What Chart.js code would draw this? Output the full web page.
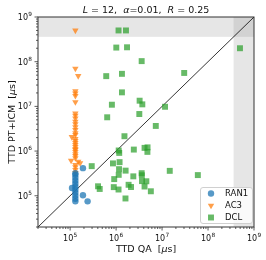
<!DOCTYPE html>
<html><head><meta charset="utf-8">
<script src="https://cdn.jsdelivr.net/npm/chart.js@4"></script>
<style>html,body{margin:0;padding:0;background:#fff}</style>
</head><body>
<canvas id="c" width="266" height="260"></canvas>
<script>
// ---------- data ----------
const AXIS_MIN = 2e4, AXIS_MAX = 1e9;
const TIMEOUT = 3.6e8;
const TICK_EXPONENTS = [5, 6, 7, 8, 9];
const SERIES_NAMES = ['RAN1', 'AC3', 'DCL'];
const DIAGONAL = [AXIS_MIN, AXIS_MAX];

const RAN1_X = [1.3e5,1.3e5,1.3e5,1.3e5,1.3e5,1.3e5,1.3e5,1.3e5,1.3e5,1.3e5,1.3e5,1.9e5,1.1e5,1.9e5,2.4e5];
const RAN1_Y = [3.2e5,2.94e5,2.52e5,2.16e5,1.85e5,1.59e5,1.36e5,1.17e5,1.0e5,8.6e4,7.5e4,4.15e5,1.49e5,1.03e5,7.5e4];

const AC3_X = [1.3e5,1.3e5,1.5e5,1.3e5,1.3e5,1.3e5,1.3e5,1.3e5,1.3e5,1.3e5,1.3e5,1.3e5,1.3e5,1.3e5,1.3e5,1.3e5,1.09e5,1.3e5,1.3e5,1.3e5,1.3e5,1.3e5,1.3e5,1.3e5,1.3e5,1.3e5,1.3e5,1.3e5,1.05e5,1.5e5,1.65e5,1.3e5,1.3e5,1.3e5,1.3e5];
const AC3_Y = [5e8,7.0e7,4.8e7,2.2e7,1.95e7,1.73e7,1.25e7,7.0e6,6.2e6,5.4e6,4.55e6,4.0e6,3.46e6,2.97e6,2.54e6,2.3e6,2.07e6,1.87e6,1.69e6,1.52e6,1.37e6,1.24e6,1.12e6,1.06e6,9.6e5,8.6e5,7.8e5,7.0e5,6.1e5,5.8e5,5.4e5,4.9e5,4.4e5,3.8e5,3.26e5];

const DCL_X = [1.13e6,1.64e6,1.01e6,1.73e6,3.6e6,6.1e5,1.34e6,3.03e7,1.34e6,3.25e6,3.72e6,8.1e5,1.16e7,6.4e5,3.2e6,7.3e6,4.95e8,
  1.52e6,1.14e6,1.17e6,2.43e6,4.16e6,4.83e6,4.8e6,2.95e5,8.55e5,1.19e6,1.16e6,1.61e6,1.14e6,9.1e5,3.6e6,3.63e6,2.37e6,1.47e7,6.0e7,
  1.87e6,2.11e6,3.66e6,4.55e6,4.16e6,5.7e6,8.9e5,1.13e6,4.05e5,4.4e5,1.6e6];
const DCL_Y = [5e8,5e8,2.07e8,2.1e8,1.03e8,4.75e7,5.35e7,5.6e7,2.06e7,1.34e7,1.11e7,1.09e7,9.8e6,5.7e6,6.75e6,3.65e6,2.0e8,
  2.15e6,1.03e6,9.1e5,1.08e6,1.18e6,1.21e6,9.6e5,4.6e5,5.3e5,5.65e5,3.94e5,3.65e5,2.94e5,2.36e5,3.2e5,2.87e5,2.72e5,3.61e5,2.9e5,
  1.76e5,1.57e5,2.13e5,2.11e5,1.61e5,1.26e5,1.56e5,1.38e5,1.63e5,1.42e5,8.7e4];

// ---------- helpers ----------
const pts = (xs, ys) => xs.map((x, i) => ({x, y: ys[i]}));
const TICK_VALUES = [];
for (let e = 4; e <= 9; e++) for (let k = 1; k <= 9; k++) {
  const v = k * Math.pow(10, e);
  if (v >= AXIS_MIN && v <= AXIS_MAX + 1) TICK_VALUES.push(v);
}
const isPow = v => TICK_EXPONENTS.some(e => Math.abs(v - Math.pow(10, e)) < 1e-6 * v);

const FONT = '"DejaVu Sans", sans-serif';
function segs(ctx, list, size) {
  let total = 0;
  list.forEach(s => { ctx.font = (s[1] ? 'italic ' : '') + size + 'px ' + FONT; s.w = ctx.measureText(s[0]).width; total += s.w; });
  return total;
}
function drawSegs(ctx, list, size, cx, base) {
  const total = segs(ctx, list, size);
  let x = cx - total / 2;
  list.forEach(s => { ctx.font = (s[1] ? 'italic ' : '') + size + 'px ' + FONT; ctx.fillText(s[0], x, base); x += s.w; });
}
// "10^e" label: returns width, draws with left edge at x
function powLabel(ctx, e, x, base, draw) {
  ctx.font = '8px ' + FONT;
  const w1 = ctx.measureText('10').width;
  ctx.font = '5.8px ' + FONT;
  const w2 = ctx.measureText(String(e)).width;
  if (draw) {
    ctx.font = '8px ' + FONT; ctx.fillText('10', x, base);
    ctx.font = '5.8px ' + FONT; ctx.fillText(String(e), x + w1 + 0.3, base - 3.6);
  }
  return w1 + 0.3 + w2;
}

const COLORS = ['rgba(31,119,180,0.75)', 'rgba(255,127,14,0.75)', 'rgba(44,160,44,0.72)'];

const decor = {
  id: 'decor',
  beforeDatasetsDraw(chart) {
    const {ctx, chartArea: a, scales: {x, y}} = chart;
    ctx.save();
    ctx.fillStyle = 'rgba(128,128,128,0.2)';
    const yt = y.getPixelForValue(TIMEOUT);
    ctx.fillRect(a.left, a.top, a.right - a.left, yt - a.top);
    const xt = x.getPixelForValue(TIMEOUT);
    ctx.fillRect(xt, a.top, a.right - xt, a.bottom - a.top);
    ctx.restore();
  },
  afterDraw(chart) {
    const {ctx, chartArea: a, scales: {x, y}} = chart;
    ctx.save();
    // spines
    ctx.strokeStyle = '#333'; ctx.lineWidth = 1;
    ctx.strokeRect(a.left, a.top, a.right - a.left, a.bottom - a.top);
    // ticks
    ctx.lineWidth = 0.8;
    ctx.beginPath();
    TICK_VALUES.forEach(v => {
      const len = isPow(v) ? 3.5 : 2;
      const px = x.getPixelForValue(v);
      ctx.moveTo(px, a.bottom); ctx.lineTo(px, a.bottom + len);
      const py = y.getPixelForValue(v);
      ctx.moveTo(a.left, py); ctx.lineTo(a.left - len, py);
    });
    ctx.stroke();
    // tick labels
    ctx.fillStyle = '#111'; ctx.textBaseline = 'alphabetic'; ctx.textAlign = 'left';
    TICK_EXPONENTS.forEach(e => {
      const v = Math.pow(10, e);
      const px = x.getPixelForValue(v);
      const w = powLabel(ctx, e, 0, 0, false);
      powLabel(ctx, e, px - w / 2, a.bottom + 13.5, true);
      const py = y.getPixelForValue(v);
      powLabel(ctx, e, a.left - 6 - w, py + 3, true);
    });
    // texts
    drawSegs(ctx, [['L', 1], [' = 12,  ', 0], ['α', 1], ['=0.01,  ', 0], ['R', 1], [' = 0.25', 0]], 9.5, (a.left + a.right) / 2, 12.5);
    drawSegs(ctx, [['TTD QA  [', 0], ['μ', 1], ['s]', 0]], 9.5, (a.left + a.right) / 2, 251.5);
    ctx.save();
    ctx.translate(14.5, (a.top + a.bottom) / 2);
    ctx.rotate(-Math.PI / 2);
    drawSegs(ctx, [['TTD PT+ICM  [', 0], ['μ', 1], ['s]', 0]], 9.5, 0, 0);
    ctx.restore();
    // legend
    const bx = a.right - 54, by = a.bottom - 40, bw = 52, bh = 36;
    ctx.beginPath();
    ctx.roundRect(bx + 0.5, by + 0.5, bw, bh, 2.5);
    ctx.fillStyle = 'rgba(255,255,255,0.8)'; ctx.fill();
    ctx.strokeStyle = '#d0d0d0'; ctx.lineWidth = 1; ctx.stroke();
    chart.data.datasets.slice(0, 3).forEach((ds, i) => {
      const my = by + 6.5 + i * 12, mx = bx + 11;
      ctx.fillStyle = ds.backgroundColor;
      ctx.beginPath();
      Chart.helpers.drawPoint(ctx, {pointStyle: ds.pointStyle, radius: ds.pointRadius, rotation: ds.rotation || 0, borderWidth: 0}, mx, my);
      ctx.fillStyle = '#111';
      ctx.font = '8.5px ' + FONT; ctx.textBaseline = 'middle';
      ctx.fillText(ds.label, bx + 25, my + 0.5);
    });
    ctx.restore();
  }
};

new Chart(document.getElementById('c'), {
  type: 'scatter',
  data: {
    datasets: [
      {label: SERIES_NAMES[0], data: pts(RAN1_X, RAN1_Y), pointStyle: 'circle', pointRadius: 3.2, backgroundColor: COLORS[0], borderWidth: 0},
      {label: SERIES_NAMES[1], data: pts(AC3_X, AC3_Y), pointStyle: 'triangle', rotation: 180, pointRadius: 3.7, backgroundColor: COLORS[1], borderWidth: 0},
      {label: SERIES_NAMES[2], data: pts(DCL_X, DCL_Y), pointStyle: 'rect', pointRadius: 4.2, backgroundColor: COLORS[2], borderWidth: 0},
      {label: 'diag', data: DIAGONAL.map(v => ({x: v, y: v})), showLine: true, pointRadius: 0, borderColor: '#000', borderWidth: 0.8, fill: false}
    ]
  },
  options: {
    responsive: false, animation: false, devicePixelRatio: 1,
    layout: {padding: {top: 17, right: 12, left: 0, bottom: 0}},
    plugins: {legend: {display: false}, tooltip: {enabled: false}, title: {display: false}},
    scales: {
      x: {
        type: 'logarithmic', min: AXIS_MIN, max: AXIS_MAX,
        grid: {display: false, drawTicks: false}, border: {display: false},
        afterBuildTicks: s => { s.ticks = TICK_VALUES.map(v => ({value: v, major: isPow(v)})); },
        afterFit: s => { s.height = 33; },
        ticks: {autoSkip: false, maxRotation: 0, padding: 5, font: {family: 'DejaVu Sans', size: 8}, callback: () => ''}
      },
      y: {
        type: 'logarithmic', min: AXIS_MIN, max: AXIS_MAX,
        grid: {display: false, drawTicks: false}, border: {display: false},
        afterBuildTicks: s => { s.ticks = TICK_VALUES.map(v => ({value: v, major: isPow(v)})); },
        afterFit: s => { s.width = 38; },
        ticks: {autoSkip: false, padding: 6, font: {family: 'DejaVu Sans', size: 8}, callback: () => ''}
      }
    }
  },
  plugins: [decor]
});
</script>
</body></html>
